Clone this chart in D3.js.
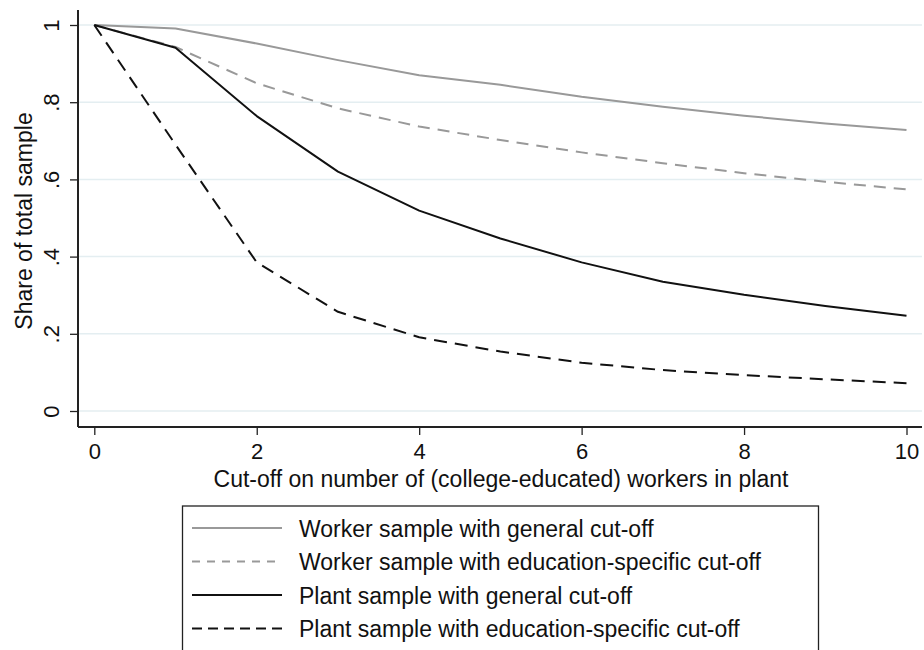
<!DOCTYPE html>
<html>
<head>
<meta charset="utf-8">
<script src="https://cdn.jsdelivr.net/npm/d3@7"></script>
<style>
  body { margin: 0; background: #fff; }
  text { font-family: "Liberation Sans", Arial, sans-serif; fill: #111; }
</style>
</head>
<body>
<div id="chart"></div>
<script>
const width = 924;
const height = 650;

// cut-off values on the x axis
const cutoffs = [0, 1, 2, 3, 4, 5, 6, 7, 8, 9, 10];

// share of total sample per series
const workerGeneral   = [1, 0.991, 0.952, 0.909, 0.870, 0.845, 0.814, 0.788, 0.765, 0.745, 0.728];
const workerEducation = [1, 0.943, 0.849, 0.784, 0.737, 0.702, 0.670, 0.642, 0.616, 0.594, 0.574];
const plantGeneral    = [1, 0.941, 0.764, 0.620, 0.519, 0.447, 0.385, 0.335, 0.301, 0.272, 0.247];
const plantEducation  = [1, 0.690, 0.385, 0.257, 0.191, 0.154, 0.125, 0.106, 0.093, 0.082, 0.072];

const xTicks = [0, 2, 4, 6, 8, 10];
const yTicks = [0, 0.2, 0.4, 0.6, 0.8, 1];
const yTickLabels = ["0", ".2", ".4", ".6", ".8", "1"];

const seriesNames = [
    "Worker sample with general cut-off",
    "Worker sample with education-specific cut-off",
    "Plant sample with general cut-off",
    "Plant sample with education-specific cut-off"
];

const series = [
    { name: seriesNames[0], values: workerGeneral,   color: "#999999", dash: null,   legDash: null },
    { name: seriesNames[1], values: workerEducation, color: "#999999", dash: "12,8", legDash: "8,7" },
    { name: seriesNames[2], values: plantGeneral,    color: "#111111", dash: null,   legDash: null },
    { name: seriesNames[3], values: plantEducation,  color: "#111111", dash: "13,8", legDash: "10,6" }
];

const svg = d3.select("#chart").append("svg")
    .attr("width", width)
    .attr("height", height);

// plot region
const plotLeft = 78, plotRight = 922, plotTop = 10, plotBottom = 427;

const x = d3.scaleLinear().domain([0, 10]).range([94.3, 906.5]);
const y = d3.scaleLinear().domain([0, 1]).range([411, 25]);

// horizontal grid lines
svg.append("g")
    .selectAll("line")
    .data(yTicks)
    .join("line")
    .attr("x1", plotLeft)
    .attr("x2", plotRight)
    .attr("y1", d => y(d))
    .attr("y2", d => y(d))
    .attr("stroke", "#e4eef1")
    .attr("stroke-width", 1.5);

// y axis, labels turned on their side
const yAxis = svg.append("g")
    .attr("transform", `translate(${plotLeft},0)`)
    .call(d3.axisLeft(y).tickValues(yTicks).tickSize(8)
        .tickFormat((d, i) => yTickLabels[i]));
yAxis.select(".domain").remove();
yAxis.selectAll(".tick line").attr("stroke", "#222").attr("stroke-width", 1.3);
yAxis.selectAll(".tick text")
    .attr("font-size", 22)
    .attr("font-family", "Liberation Sans, Arial, sans-serif")
    .attr("fill", "#111")
    .attr("text-anchor", "middle")
    .attr("transform", "rotate(-90)")
    .attr("x", 0)
    .attr("y", -19)
    .attr("dy", 0);

svg.append("line")
    .attr("x1", plotLeft).attr("x2", plotLeft)
    .attr("y1", plotTop).attr("y2", plotBottom)
    .attr("stroke", "#222").attr("stroke-width", 2);

// x axis
const xAxis = svg.append("g")
    .attr("transform", `translate(0,${plotBottom})`)
    .call(d3.axisBottom(x).tickValues(xTicks).tickSize(8).tickPadding(8));
xAxis.select(".domain").remove();
xAxis.selectAll(".tick line").attr("stroke", "#222").attr("stroke-width", 1.3);
xAxis.selectAll(".tick text")
    .attr("font-size", 22)
    .attr("font-family", "Liberation Sans, Arial, sans-serif")
    .attr("fill", "#111");

svg.append("line")
    .attr("x1", plotLeft).attr("x2", plotRight)
    .attr("y1", plotBottom).attr("y2", plotBottom)
    .attr("stroke", "#222").attr("stroke-width", 2);

// axis titles
svg.append("text")
    .attr("x", 501)
    .attr("y", 487)
    .attr("text-anchor", "middle")
    .attr("font-size", 23)
    .text("Cut-off on number of (college-educated) workers in plant");

svg.append("text")
    .attr("transform", "translate(31.5,221) rotate(-90)")
    .attr("text-anchor", "middle")
    .attr("font-size", 23)
    .text("Share of total sample");

// series lines
const line = d3.line()
    .x((d, i) => x(cutoffs[i]))
    .y(d => y(d));

svg.append("g")
    .selectAll("path")
    .data(series)
    .join("path")
    .attr("d", d => line(d.values))
    .attr("fill", "none")
    .attr("stroke", d => d.color)
    .attr("stroke-width", 2)
    .attr("stroke-dasharray", d => d.dash)
    .attr("stroke-linejoin", "round");

// legend
const legend = svg.append("g");
legend.append("rect")
    .attr("x", 182.5)
    .attr("y", 506)
    .attr("width", 636)
    .attr("height", 170)
    .attr("fill", "#fff")
    .attr("stroke", "#222")
    .attr("stroke-width", 1.3);

const items = legend.selectAll("g.item")
    .data(series)
    .join("g")
    .attr("class", "item")
    .attr("transform", (d, i) => `translate(0,${528 + i * 33.5})`);

items.append("line")
    .attr("x1", 192).attr("x2", 282)
    .attr("y1", 0).attr("y2", 0)
    .attr("stroke", d => d.color)
    .attr("stroke-width", 2)
    .attr("stroke-dasharray", d => d.legDash);

items.append("text")
    .attr("x", 299)
    .attr("y", 8.5)
    .attr("font-size", 23)
    .text(d => d.name);
</script>
</body>
</html>
